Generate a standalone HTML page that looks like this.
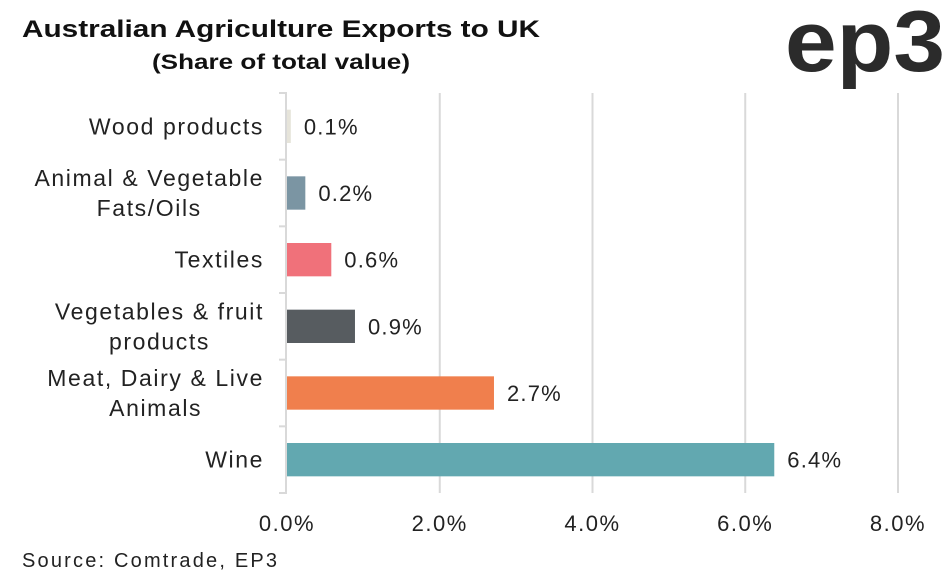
<!DOCTYPE html>
<html><head><meta charset="utf-8"><style>
body{margin:0;background:#fff;width:947px;height:583px;overflow:hidden;font-family:"Liberation Sans",sans-serif;}
svg text{font-family:"Liberation Sans",sans-serif;}
</style></head><body>
<svg width="947" height="583">
<text x="22" y="37" font-size="24" font-weight="bold" fill="#111" textLength="518" lengthAdjust="spacingAndGlyphs">Australian Agriculture Exports to UK</text>
<text x="152" y="69" font-size="21" font-weight="bold" fill="#111" textLength="258" lengthAdjust="spacingAndGlyphs">(Share of total value)</text>
<text x="785" y="71" font-size="86" font-weight="bold" fill="#2b2b2b" textLength="160" lengthAdjust="spacingAndGlyphs">ep3</text>
<g id="grid"></g><g id="bars"></g><g id="labels"></g>
<text x="22" y="567" font-size="20" fill="#222" textLength="255" lengthAdjust="spacing">Source: Comtrade, EP3</text>
</svg>
<script>
const categories=["Wood products","Animal & Vegetable|Fats/Oils","Textiles","Vegetables & fruit|products","Meat, Dairy & Live|Animals","Wine"];
const values=[0.05,0.24,0.58,0.89,2.71,6.38];
const valueLabels=["0.1%","0.2%","0.6%","0.9%","2.7%","6.4%"];
const colors=["#e6e4da","#7b95a3","#f0717a","#575c60","#f07f4d","#62a8b0"];
const ticks=[0,2,4,6,8];
const tickLabels=["0.0%","2.0%","4.0%","6.0%","8.0%"];
const NS="http://www.w3.org/2000/svg";
const x0=287,x1=898,plotTop=93,plotBottom=493,band=(plotBottom-plotTop)/categories.length;
const xs=v=>x0+v/8*(x1-x0);
function mk(t,a,p){const e=document.createElementNS(NS,t);for(const k in a)e.setAttribute(k,a[k]);p.appendChild(e);return e;}
const g=document.getElementById('grid'),b=document.getElementById('bars'),l=document.getElementById('labels');
ticks.forEach((t,i)=>{
 if(i>0){const ln=mk('line',{x1:xs(t),x2:xs(t),y1:plotTop,y2:plotBottom,stroke:'#d9d9d9','stroke-width':2},g);
 
 }
 const tx=mk('text',{x:xs(t),y:531,'text-anchor':'middle','font-size':22,'letter-spacing':1.5,fill:'#222'},l);tx.textContent=tickLabels[i];
 
 
});
const ax=mk('line',{x1:x0-1,x2:x0-1,y1:plotTop,y2:plotBottom,stroke:'#d9d9d9','stroke-width':2},g);


for(let i=0;i<=categories.length;i++){const tk=mk('line',{x1:x0-8,x2:x0,y1:plotTop+i*band,y2:plotTop+i*band,stroke:'#d9d9d9','stroke-width':2},g);
 
 }
categories.forEach((c,i)=>{
 const cy=plotTop+band*(i+0.5),h=band*0.5;
 const r=mk('rect',{x:x0,y:cy-h/2,width:xs(values[i])-x0,height:h,fill:colors[i]},b);
 
 
 const v=mk('text',{x:xs(values[i])+13,y:cy+8,'font-size':22,'letter-spacing':1.2,fill:'#222'},l);v.textContent=valueLabels[i];
 
 
 const parts=c.split('|');
 const els=parts.map((p,j)=>{const t=mk('text',{x:264,y:cy+8+(j-(parts.length-1)/2)*30,'text-anchor':'middle','font-size':23,'letter-spacing':1.6,fill:'#222'},l);t.textContent=p;
 
 return t;});
 const maxW=Math.max(...els.map(e=>e.getComputedTextLength()));
 els.forEach(e=>e.setAttribute('x',264-maxW/2));
});
</script>
</body></html>
